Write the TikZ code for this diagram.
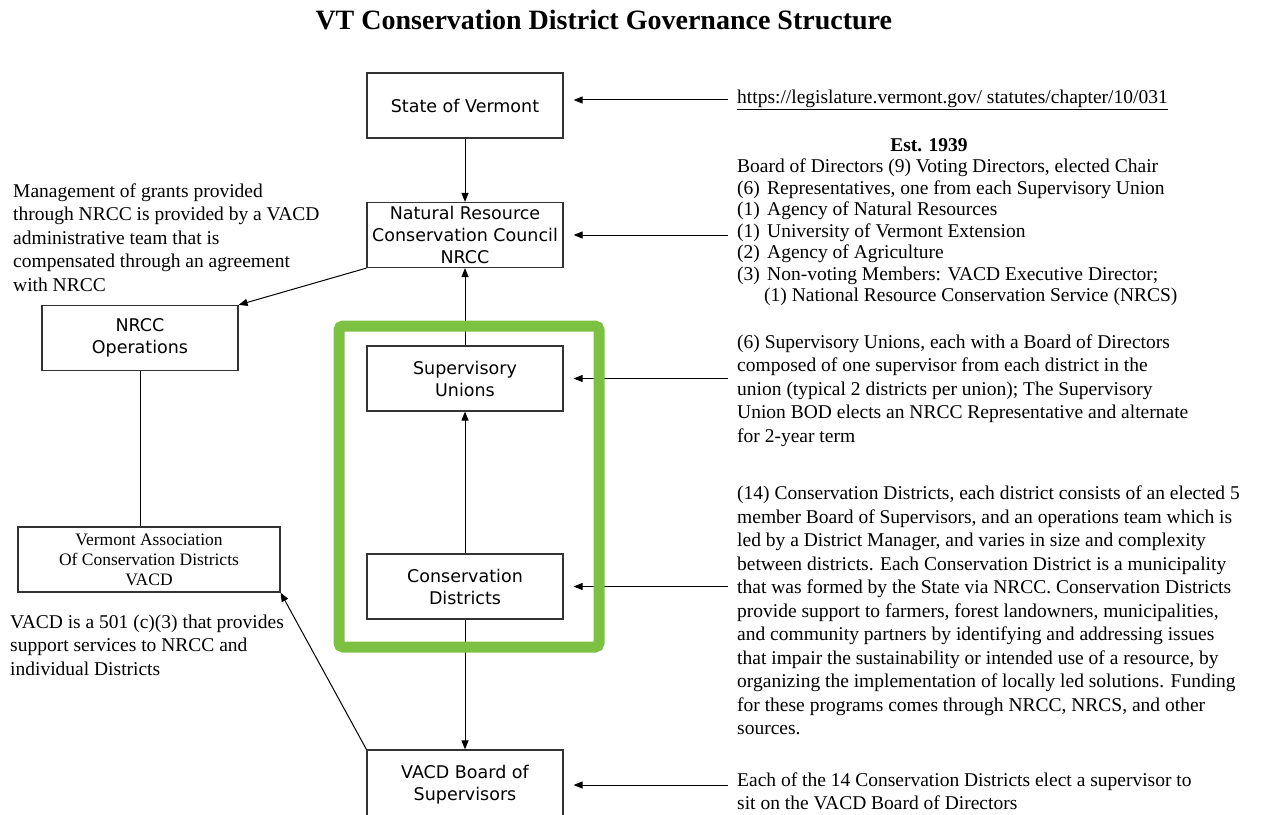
\documentclass[tikz,border=0pt]{standalone}
\usepackage{fontspec}
\setmainfont{Liberation Serif}
\newfontfamily\boxfamily{DejaVu Sans}
\usetikzlibrary{arrows.meta}
\definecolor{framegreen}{RGB}{125,193,67}

\begin{document}
\begin{tikzpicture}
  [x=1bp,y=-1bp,
   box/.style={draw=black!80,line width=1.2bp,align=center,inner sep=0pt,
     minimum width=196bp,minimum height=65bp,font=\boxfamily\fontsize{17.5bp}{22bp}\selectfont},
   note/.style={anchor=west,align=left,inner sep=0pt,font=\fontsize{19.5bp}{23.5bp}\selectfont},
   rnote/.style={note,inner xsep=9bp},
   arr/.style={-{Triangle[length=9bp,width=7bp]},line width=1bp}]
  \useasboundingbox (0,0) rectangle (1263,815);

  \node [anchor=base west,font=\bfseries\fontsize{28bp}{32bp}\selectfont] (title) at (312,30) {VT Conservation District Governance Structure};

  \node [box] (state) at (465,105.5) {State of Vermont};
  \node [box] (nrcc) at (465,235) {Natural Resource\\Conservation Council\\NRCC};
  \node [box] (ops) at (140,338) {NRCC\\Operations};
  \node [box] (su) at (465,378.5) {Supervisory\\Unions};
  \node [box] (cd) at (465,586.5) {Conservation\\Districts};
  \node [box,minimum width=262bp,font=\fontsize{17.5bp}{20bp}\selectfont] (vacd) at (149,559.5) {Vermont Association\\Of Conservation Districts\\VACD};
  \node [box,minimum height=70bp] (bos) at (465,785) {VACD Board of\\Supervisors};

  \node [note] (grants) at (13,237.5) {Management of grants provided\\through NRCC is provided by a VACD\\administrative team that is\\compensated through an agreement\\with NRCC};
  \node [note] (support) at (10,645) {VACD is a 501 (c)(3) that provides\\support services to NRCC and\\individual Districts};

  \node [rnote] (url) at (728,100) {\underline{https://legislature.vermont.gov/ statutes/chapter/10/031}};
  \node [font=\bfseries\fontsize{19.5bp}{23.5bp}\selectfont] (est) at (929,145) {Est. 1939};
  \node [rnote,font=\fontsize{19.5bp}{21.5bp}\selectfont] (board) at (728,232.5) {Board of Directors (9) Voting Directors, elected Chair\\
    \makebox[30bp][l]{(6)}Representatives, one from each Supervisory Union\\
    \makebox[30bp][l]{(1)}Agency of Natural Resources\\
    \makebox[30bp][l]{(1)}University of Vermont Extension\\
    \makebox[30bp][l]{(2)}Agency of Agriculture\\
    \makebox[30bp][l]{(3)}Non-voting Members: VACD Executive Director;\\
    \hspace*{27bp}(1) National Resource Conservation Service (NRCS)};
  \node [rnote] (unions) at (728,390.5) {(6) Supervisory Unions, each with a Board of Directors\\composed of one supervisor from each district in the\\union (typical 2 districts per union); The Supervisory\\Union BOD elects an NRCC Representative and alternate\\for 2-year term};
  \node [rnote] (districts) at (728,610.5) {(14) Conservation Districts, each district consists of an elected 5\\member Board of Supervisors, and an operations team which is\\led by a District Manager, and varies in size and complexity\\between districts. Each Conservation District is a municipality\\that was formed by the State via NRCC. Conservation Districts\\provide support to farmers, forest landowners, municipalities,\\and community partners by identifying and addressing issues\\that impair the sustainability or intended use of a resource, by\\organizing the implementation of locally led solutions. Funding\\for these programs comes through NRCC, NRCS, and other\\sources.};
  \node [rnote] (elect) at (728,791.5) {Each of the 14 Conservation Districts elect a supervisor to\\sit on the VACD Board of Directors};

  \foreach \from/\to in {state/nrcc,su/nrcc,cd/su,cd/bos,nrcc.south west/ops.north east,bos.north west/vacd.south east}
    \draw [arr] (\from) -- (\to);
  \draw [line width=1bp] (ops.south) -- (ops.south |- vacd.north);
  \draw [arr,shorten >=10bp] (url.west) -- (url.west -| state.east);
  \foreach \from/\to in {board/nrcc,unions/su,districts/cd,elect/bos}
    \draw [arr,shorten >=10bp] (\to.east -| \from.west) -- (\to.east);

  \draw [framegreen,line width=11bp,rounded corners=4bp] (339,326) rectangle (599,647);

\end{tikzpicture}
\end{document}
